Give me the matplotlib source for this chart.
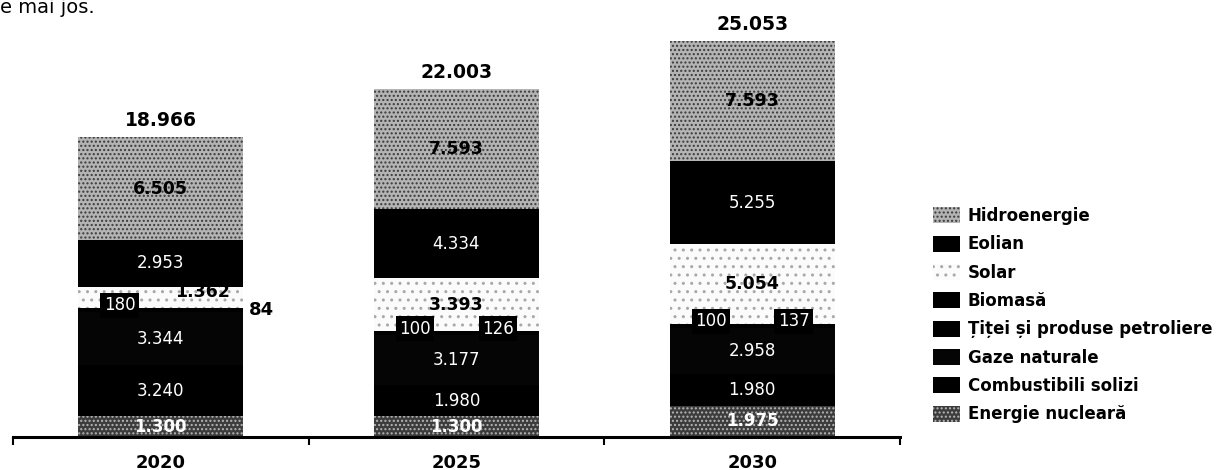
import numpy as np
import matplotlib.pyplot as plt

plt.rcParams['font.family'] = ['DejaVu Sans']
plt.rcParams['hatch.linewidth'] = 1.0

years = ['2020', '2025', '2030']
names = ['Energie nucleară', 'Combustibili solizi', 'Gaze naturale',
         'Țiței și produse petroliere', 'Biomasă', 'Solar', 'Eolian', 'Hidroenergie']
nuclear = [1300, 1300, 1975]
solid = [3240, 1980, 1980]
gas = [3344, 3177, 2958]
oil = [180, 100, 100]
biomass = [84, 126, 137]
solar = [1362, 3393, 5054]
wind = [2953, 4334, 5255]
hydro = [6505, 7593, 7593]
totals = [18966, 22003, 25053]

series = [nuclear, solid, gas, oil, biomass, solar, wind, hydro]
# face colour, hatch, hatch colour - imitates the grey scan
styles = [('#3c3c3c', '....', '#b5b5b5'),
          ('#000000', None, '#000000'),
          ('#050505', None, '#050505'),
          ('#000000', None, '#000000'),
          ('#000000', None, '#000000'),
          ('#fbfbfb', '..', '#a8a8a8'),
          ('#000000', None, '#000000'),
          ('#b4b4b4', '....', '#3a3a3a')]


def fmt(v):
    return f"{v:,}".replace(',', '.')


fig = plt.figure(figsize=(12.23, 4.70), dpi=100)
ax = fig.add_axes([13 / 1223, 33 / 470, 887 / 1223, 437 / 470])

x = np.arange(len(years))
w = 0.558
bottom = np.zeros(len(years))
bars = []
for vals, (fc, hatch, hc) in zip(series, styles):
    b = ax.bar(x, vals, w, bottom=bottom, color=fc, hatch=hatch,
               edgecolor=hc, linewidth=0)
    bars.append(b)
    bottom = bottom + np.array(vals)

ax.set_xlim(-0.5, 2.5)
ax.set_ylim(0, 27650)

# segment labels
cum = np.zeros(len(years))
for k, vals in enumerate(series):
    vals = np.array(vals)
    mid = cum + vals / 2
    for i in range(len(years)):
        if k == 0:
            ax.text(x[i], mid[i], fmt(vals[i]), ha='center', va='center',
                    color='white', fontsize=12, fontweight='bold')
        elif k in (1, 2, 6):
            ax.text(x[i], mid[i], fmt(vals[i]), ha='center', va='center',
                    color='white', fontsize=12)
        elif k in (5, 7):
            # thin solar band: label moved to the right, upper part
            if vals[i] < 2000:
                ax.annotate(fmt(vals[i]), (x[i] + 0.14, mid[i]), xytext=(0, 4),
                            textcoords='offset points', ha='center', va='center',
                            color='black', fontsize=12.5, fontweight='bold')
            else:
                ax.text(x[i], mid[i], fmt(vals[i]), ha='center', va='center',
                        color='black', fontsize=12.5, fontweight='bold')
    cum = cum + vals

# small values on top of the black stack
stack_top = np.array(nuclear) + np.array(solid) + np.array(gas) + np.array(oil) + np.array(biomass)
box = dict(boxstyle='square,pad=0.2', fc='black', ec='none')
for i in range(len(years)):
    ax.annotate(fmt(oil[i]), (x[i] - 0.14, stack_top[i]), xytext=(0, 2),
                textcoords='offset points', ha='center', va='center',
                color='white', fontsize=12, bbox=box)
    if biomass[i] < 100:
        ax.annotate(fmt(biomass[i]), (x[i] + 0.34, stack_top[i]), xytext=(0, -1),
                    textcoords='offset points', ha='center', va='center',
                    color='black', fontsize=13, fontweight='bold')
    else:
        ax.annotate(fmt(biomass[i]), (x[i] + 0.14, stack_top[i]), xytext=(0, 2),
                    textcoords='offset points', ha='center', va='center',
                    color='white', fontsize=12, bbox=box)

# totals
for i in range(len(years)):
    ax.annotate(fmt(totals[i]), (x[i], totals[i]), xytext=(0, 5),
                textcoords='offset points', ha='center', va='bottom',
                fontsize=13.5, fontweight='bold')

for s in ['top', 'left', 'right']:
    ax.spines[s].set_visible(False)
ax.spines['bottom'].set_linewidth(2.2)
ax.set_yticks([])
ax.set_xticks(x, years, fontsize=13, fontweight='bold')
ax.tick_params(axis='x', which='major', length=0, pad=12)
ax.set_xticks([-0.5, 0.5, 1.5, 2.5], minor=True)
ax.tick_params(axis='x', which='minor', length=6, width=1.5, direction='out')

fig.legend(bars[::-1], names[::-1], loc='upper left',
           bbox_to_anchor=(933 / 1223, 1 - 207 / 470), frameon=False,
           prop={'weight': 'bold', 'size': 12}, borderpad=0, borderaxespad=0,
           handlelength=1.62, handleheight=1.1, handletextpad=0.45,
           labelspacing=0.62)

# line of body text above the chart
fig.text(0.0, 1 - 13 / 470, 'e mai jos.', fontsize=14, va='baseline', ha='left')

fig.savefig('out.png', dpi=100)
